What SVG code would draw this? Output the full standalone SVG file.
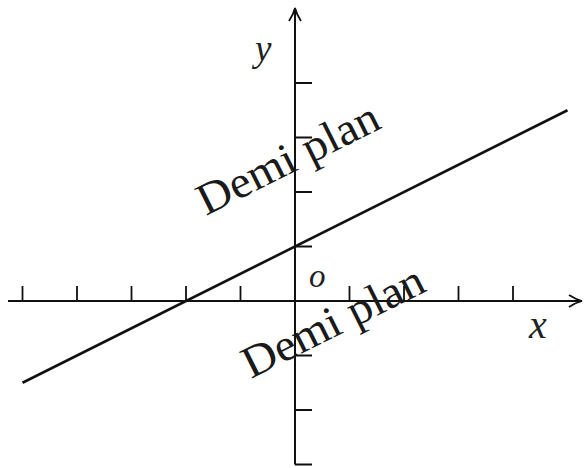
<svg xmlns="http://www.w3.org/2000/svg" width="584" height="468" viewBox="0 0 584 468">
  <style>
    .axis { stroke: #111; stroke-width: 2; fill: none; }
    .tick { stroke: #111; stroke-width: 1.8; fill: none; }
    .line { stroke: #111; stroke-width: 2.6; fill: none; }
    .lab { font-family: "Liberation Serif", "DejaVu Serif", serif; font-style: italic; fill: #222; }
    .demi { font-family: "Liberation Serif", "DejaVu Serif", serif; font-size: 45px; fill: #1a1a1a; }
  </style>
  <defs>
    <marker id="arr" markerWidth="16" markerHeight="14" refX="14" refY="7" orient="auto" markerUnits="userSpaceOnUse">
      <path d="M 1 1 Q 8 5.5 14 7 Q 8 8.5 1 13" fill="none" stroke="#111" stroke-width="1.8"/>
    </marker>
  </defs>
  <rect width="584" height="468" fill="#fff"/>
  <g id="axes">
    <line class="axis" x1="8" y1="301" x2="582" y2="301" marker-end="url(#arr)"/>
    <line class="axis" x1="295" y1="464.5" x2="295" y2="8" marker-end="url(#arr)"/>
  </g>
  <g id="ticks">
    <path class="tick" d="M22.5 301V286 M77 301V286 M131.5 301V286 M186 301V286 M240.5 301V286 M349.5 301V286 M404 301V286 M458.5 301V286 M513 301V286"/>
    <path class="tick" d="M295 83H312 M295 137.5H312 M295 192H312 M295 246.5H312 M295 355.5H312 M295 410H312 M295 464.5H312"/>
  </g>
  <g id="boundary">
    <line class="line" x1="22.5" y1="382.75" x2="567.5" y2="110.25"/>
  </g>
  <g id="labels">
    <text class="lab" x="255" y="61" font-size="37">y</text>
    <text class="lab" x="529" y="338" font-size="40">x</text>
    <text class="lab" x="309" y="287" font-size="33">o</text>
    <text class="demi" transform="translate(206 216) rotate(-26.57)" textLength="198" lengthAdjust="spacingAndGlyphs">Demi plan</text>
    <text class="demi" transform="translate(251 379) rotate(-26.57)" textLength="198" lengthAdjust="spacingAndGlyphs">Demi plan</text>
  </g>
</svg>
